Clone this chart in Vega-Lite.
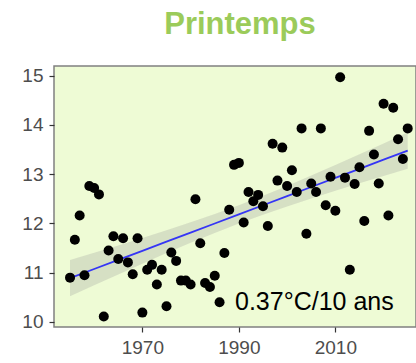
{
  "$schema": "https://vega.github.io/schema/vega-lite/v6.json",
  "width": 362,
  "height": 261,
  "autosize": {"type": "none"},
  "padding": {"left": 54, "top": 66, "right": 0, "bottom": 36},
  "background": "white",
  "title": {"text": "Printemps", "fontSize": 31, "fontWeight": "bold", "font": "Liberation Sans", "color": "#9BCB5A", "anchor": "middle", "dx": 5, "offset": 28, "dy": 27, "baseline": "alphabetic"},
  "config": {
    "view": {"fill": "#EEFBD5", "stroke": "#808080", "strokeWidth": 1.5},
    "axis": {"labelFont": "Liberation Sans", "labelFontSize": 19, "labelColor": "#4D4D4D", "tickColor": "#333333", "tickSize": 5, "tickWidth": 1.2, "labelPadding": 6, "domain": false, "grid": false, "title": null}
  },
  "datasets": {
    "obs": [
      {"year": 1955, "t": 10.90}, {"year": 1956, "t": 11.67}, {"year": 1957, "t": 12.16}, {"year": 1958, "t": 10.95},
      {"year": 1959, "t": 12.76}, {"year": 1960, "t": 12.72}, {"year": 1961, "t": 12.59}, {"year": 1962, "t": 10.11},
      {"year": 1963, "t": 11.45}, {"year": 1964, "t": 11.74}, {"year": 1965, "t": 11.28}, {"year": 1966, "t": 11.70},
      {"year": 1967, "t": 11.21}, {"year": 1968, "t": 10.97}, {"year": 1969, "t": 11.70}, {"year": 1970, "t": 10.19},
      {"year": 1971, "t": 11.06}, {"year": 1972, "t": 11.16}, {"year": 1973, "t": 10.76}, {"year": 1974, "t": 11.06},
      {"year": 1975, "t": 10.32}, {"year": 1976, "t": 11.41}, {"year": 1977, "t": 11.24}, {"year": 1978, "t": 10.84},
      {"year": 1979, "t": 10.84}, {"year": 1980, "t": 10.76}, {"year": 1981, "t": 12.49}, {"year": 1982, "t": 11.60},
      {"year": 1983, "t": 10.79}, {"year": 1984, "t": 10.71}, {"year": 1985, "t": 10.94}, {"year": 1986, "t": 10.40},
      {"year": 1987, "t": 11.40}, {"year": 1988, "t": 12.28}, {"year": 1989, "t": 13.19}, {"year": 1990, "t": 13.23},
      {"year": 1991, "t": 12.02}, {"year": 1992, "t": 12.64}, {"year": 1993, "t": 12.45}, {"year": 1994, "t": 12.58},
      {"year": 1995, "t": 12.35}, {"year": 1996, "t": 11.95}, {"year": 1997, "t": 13.62}, {"year": 1998, "t": 12.87},
      {"year": 1999, "t": 13.54}, {"year": 2000, "t": 12.76}, {"year": 2001, "t": 13.08}, {"year": 2002, "t": 12.64},
      {"year": 2003, "t": 13.93}, {"year": 2004, "t": 11.79}, {"year": 2005, "t": 12.81}, {"year": 2006, "t": 12.64},
      {"year": 2007, "t": 13.93}, {"year": 2008, "t": 12.37}, {"year": 2009, "t": 12.95}, {"year": 2010, "t": 12.26},
      {"year": 2011, "t": 14.97}, {"year": 2012, "t": 12.93}, {"year": 2013, "t": 11.06}, {"year": 2014, "t": 12.80},
      {"year": 2015, "t": 13.14}, {"year": 2016, "t": 12.05}, {"year": 2017, "t": 13.88}, {"year": 2018, "t": 13.40},
      {"year": 2019, "t": 12.81}, {"year": 2020, "t": 14.43}, {"year": 2021, "t": 12.16}, {"year": 2022, "t": 14.35},
      {"year": 2023, "t": 13.71}, {"year": 2024, "t": 13.31}, {"year": 2025, "t": 13.93}
    ],
    "band": [
      {"year": 1955, "fit": 10.89, "lo": 10.52, "hi": 11.26},
      {"year": 1960, "fit": 11.075, "lo": 10.744, "hi": 11.406},
      {"year": 1965, "fit": 11.26, "lo": 10.965, "hi": 11.555},
      {"year": 1970, "fit": 11.445, "lo": 11.184, "hi": 11.706},
      {"year": 1975, "fit": 11.63, "lo": 11.398, "hi": 11.862},
      {"year": 1980, "fit": 11.815, "lo": 11.607, "hi": 12.023},
      {"year": 1985, "fit": 12.0, "lo": 11.808, "hi": 12.192},
      {"year": 1990, "fit": 12.185, "lo": 11.998, "hi": 12.372},
      {"year": 1995, "fit": 12.37, "lo": 12.178, "hi": 12.562},
      {"year": 2000, "fit": 12.555, "lo": 12.347, "hi": 12.763},
      {"year": 2005, "fit": 12.74, "lo": 12.508, "hi": 12.972},
      {"year": 2010, "fit": 12.925, "lo": 12.664, "hi": 13.186},
      {"year": 2015, "fit": 13.11, "lo": 12.815, "hi": 13.405},
      {"year": 2020, "fit": 13.295, "lo": 12.964, "hi": 13.626},
      {"year": 2025, "fit": 13.48, "lo": 13.11, "hi": 13.85}
    ]
  },
  "layer": [
    {
      "data": {"name": "band"},
      "mark": {"type": "area", "color": "#999999", "opacity": 0.28},
      "encoding": {
        "x": {"field": "year", "type": "quantitative", "scale": {"domain": [1951.68, 2026.72], "nice": false, "zero": false}, "axis": {"values": [1970, 1990, 2010], "format": "d"}},
        "y": {"field": "lo", "type": "quantitative", "scale": {"domain": [9.898, 15.197], "nice": false, "zero": false}, "axis": {"values": [10, 11, 12, 13, 14, 15], "format": "d"}},
        "y2": {"field": "hi"}
      }
    },
    {
      "data": {"name": "band"},
      "mark": {"type": "line", "color": "#3535F5", "strokeWidth": 1.8},
      "encoding": {
        "x": {"field": "year", "type": "quantitative"},
        "y": {"field": "fit", "type": "quantitative"}
      }
    },
    {
      "data": {"name": "obs"},
      "mark": {"type": "circle", "color": "black", "opacity": 1, "size": 100},
      "encoding": {
        "x": {"field": "year", "type": "quantitative"},
        "y": {"field": "t", "type": "quantitative"}
      }
    },
    {
      "data": {"values": [{}]},
      "mark": {"type": "text", "text": "0.37°C/10 ans", "font": "Liberation Sans", "fontSize": 25, "align": "left", "baseline": "alphabetic", "color": "black"},
      "encoding": {
        "x": {"datum": 1989.2},
        "y": {"datum": 10.25}
      }
    }
  ]
}
